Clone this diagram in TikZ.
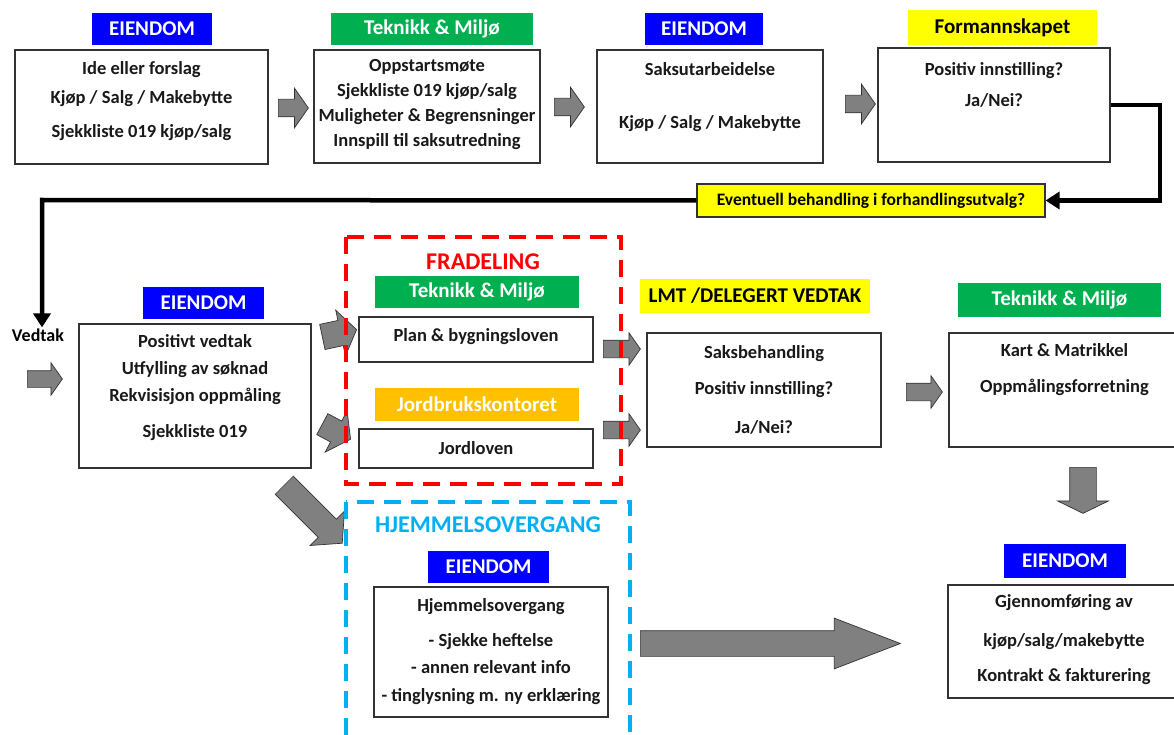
\documentclass[tikz,border=0pt]{standalone}
\usepackage{fontspec}
\setmainfont{Carlito}
\usetikzlibrary{shapes.arrows, arrows.meta}

\definecolor{eiblue}{RGB}{0,0,255}
\definecolor{tmgreen}{RGB}{0,176,80}
\definecolor{fmyellow}{RGB}{255,255,0}
\definecolor{jborange}{RGB}{255,192,0}
\definecolor{hjcyan}{RGB}{0,176,240}
\definecolor{frred}{RGB}{255,0,0}

\begin{document}
\begin{tikzpicture}[x=1pt, y=-1pt, >={Triangle[length=14pt,width=17pt]},
  box/.style={draw=black!80, line width=1.1pt, fill=white, inner sep=0pt},
  txt/.style={font=\fontsize{18.5}{22}\selectfont\bfseries, align=center, text=black!90},
  tag/.style={font=\fontsize{21}{25}\selectfont\bfseries, text=white, inner sep=0pt},
  blk/.style n args={3}{single arrow, draw=black!80, fill=black!50, line width=0.7pt,
    inner xsep=0pt, inner ysep=#2/2, anchor=tail, minimum height=#1,
    single arrow head extend=#3, single arrow tip angle=110},
  conn/.style={line width=4.5pt, ->},
  zone/.style={line width=4.5pt, dash pattern=on 17pt off 10pt}]
  \useasboundingbox (0,0) rectangle (1174,735);

  % top row
  \node[tag, fill=eiblue, minimum width=120, minimum height=32] (ei1) at (152,29) {EIENDOM};
  \node[box, minimum width=253, minimum height=114] (b1) at (141.5,107) {};
  \node[txt] (t1) at (141.5,101.5) {Ide eller forslag\\[7pt]Kjøp / Salg / Makebytte\\[12pt]Sjekkliste 019 kjøp/salg};
  \node[blk={30}{17}{11}] (a1) at (278,108) {};

  \node[tag, fill=tmgreen, minimum width=202, minimum height=32] (tm1) at (432,29) {Teknikk \& Miljø};
  \node[box, minimum width=226, minimum height=113] (b2) at (427,106.5) {};
  \node[txt] (t2) at (427,104.5) {Oppstartsmøte\\[3pt]Sjekkliste 019 kjøp/salg\\[3pt]Muligheter \& Begrensninger\\[3pt]Innspill til saksutredning};
  \node[blk={30}{17}{11}] (a2) at (554,107) {};

  \node[tag, fill=eiblue, minimum width=118, minimum height=32] (ei2) at (704,29) {EIENDOM};
  \node[box, minimum width=226, minimum height=113] (b3) at (710,106.5) {};
  \node[txt] (t3) at (710,97) {Saksutarbeidelse\\[31pt]Kjøp / Salg / Makebytte};
  \node[blk={30}{17}{11}] (a3) at (845,104) {};

  \node[tag, fill=fmyellow, text=black, minimum width=189, minimum height=35] (fm) at (1002.5,27.5) {Formannskapet};
  \node[box, minimum width=232, minimum height=114] (b4) at (994,105) {};
  \node[txt] (t4) at (994,85) {Positiv innstilling?\\[9pt]Ja/Nei?};

  % forhandlingsutvalg
  \node[draw=black!80, line width=1.1pt, fill=fmyellow, inner sep=0pt, minimum width=348, minimum height=33,
    font=\fontsize{17.5}{21}\selectfont\bfseries] (yel) at (871,200.5) {Eventuell behandling i forhandlingsutvalg?};
  \node[font=\fontsize{18}{21}\selectfont\bfseries, inner sep=1pt] (vedtak) at (38,335) {Vedtak};
  \coordinate (c1) at (1160,105);
  \coordinate (c2) at (42,200);
  \draw[conn] (b4.east) -- (c1) |- (yel.east);
  \draw[conn] (yel.west) -- (c2) -- (c2 |- vedtak.north);

  % vedtak
  \node[blk={35}{16}{8}] (a4) at (27,379) {};
  \node[tag, fill=eiblue, minimum width=121, minimum height=32] (ei3) at (203.5,303) {EIENDOM};
  \node[box, minimum width=232, minimum height=144] (b5) at (195,396) {};
  \node[txt] (t5) at (195,388) {Positivt vedtak\\[5pt]Utfylling av søknad\\[5pt]Rekvisisjon oppmåling\\[14pt]Sjekkliste 019};

  \node[blk={35}{25}{10.5}, rotate=12] (a5) at (322,337) {};
  \node[blk={32}{23}{11.5}, rotate=-28] (a6) at (322,424) {};
  \node[blk={82}{25}{11.5}, rotate=-45, single arrow tip angle=98] (a7) at (284,485) {};

  % fradeling
  \node[font=\fontsize{24}{28}\selectfont\bfseries, text=frred] (fr) at (483,262) {FRADELING};
  \node[tag, fill=tmgreen, minimum width=204, minimum height=32] (tm2) at (477,292) {Teknikk \& Miljø};
  \node[box, minimum width=234, minimum height=45] (pb) at (476,339.5) {};
  \node[txt] (tpb) at (476,337) {Plan \& bygningsloven};
  \node[tag, fill=jborange, minimum width=204, minimum height=33] (jb) at (477,404.5) {Jordbrukskontoret};
  \node[box, minimum width=234, minimum height=39] (jl) at (476,448.5) {};
  \node[txt] (tjl) at (476,448) {Jordloven};

  \node[blk={37}{17}{7.5}] (a8) at (603,349) {};
  \node[blk={37}{17}{7.5}] (a9) at (603,430) {};

  % delegert vedtak
  \node[tag, fill=fmyellow, text=black, minimum width=230, minimum height=34] (lmt) at (755,296) {LMT /DELEGERT VEDTAK};
  \node[box, minimum width=234, minimum height=114] (b6) at (764,390) {};
  \node[txt] (t6) at (764,389.5) {Saksbehandling\\[14pt]Positiv innstilling?\\[17pt]Ja/Nei?};
  \node[blk={36}{17}{7.5}] (a10) at (906,392) {};

  \node[tag, fill=tmgreen, minimum width=203, minimum height=34] (tm3) at (1059.5,300) {Teknikk \& Miljø};
  \node[box, minimum width=231, minimum height=114] (b7) at (1064.5,390) {};
  \node[txt] (t7) at (1064.5,370) {Kart \& Matrikkel\\[14pt]Oppmålingsforretning};
  \node[blk={46}{26}{12}, rotate=-90, single arrow tip angle=128] (a11) at (1083,467) {};

  % hjemmelsovergang
  \node[font=\fontsize{24}{28}\selectfont\bfseries, text=hjcyan] (hj) at (488,525) {HJEMMELSOVERGANG};
  \node[tag, fill=eiblue, minimum width=121, minimum height=32] (ei4) at (488.5,567) {EIENDOM};
  \node[box, minimum width=234, minimum height=130] (b8) at (491,652) {};
  \node[txt] (t8) at (491,652) {Hjemmelsovergang\\[13pt]- Sjekke heftelse\\[5pt]- annen relevant info\\[6pt]- tinglysning m. ny erklæring};
  \node[blk={260}{25}{12.5}, single arrow tip angle=42] (a12) at (640,643.5) {};

  \node[tag, fill=eiblue, minimum width=122, minimum height=34] (ei5) at (1065,561) {EIENDOM};
  \node[box, minimum width=232, minimum height=113] (b9) at (1064,641.5) {};
  \node[txt] (t9) at (1064,640) {Gjennomføring av\\[17pt]kjøp/salg/makebytte\\[13pt]Kontrakt \& fakturering};

  % soner
  \draw[zone, draw=frred] (346,237) rectangle (621,484);
  \draw[zone, draw=hjcyan] (346,502) rectangle (630,745);
\end{tikzpicture}
\end{document}
